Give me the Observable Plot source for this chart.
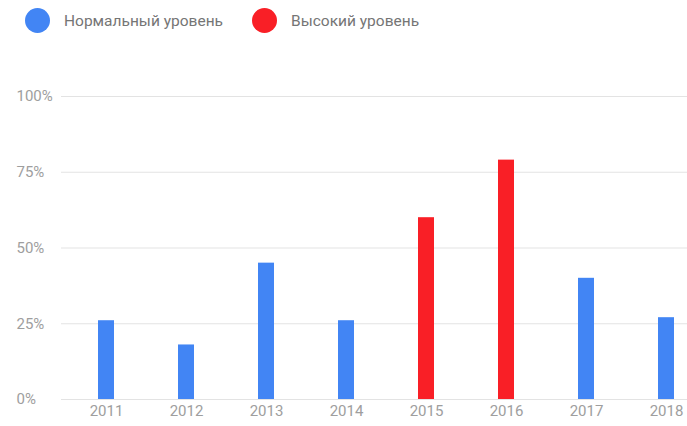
<!DOCTYPE html>
<html>
<head>
<meta charset="utf-8">
<script src="https://cdn.jsdelivr.net/npm/d3@7"></script>
<script src="https://cdn.jsdelivr.net/npm/@observablehq/plot@0.6"></script>
<style>
  html, body { margin: 0; padding: 0; background: #fff; overflow: hidden; width: 687px; height: 426px; }
  body { font-family: Roboto, "Noto Sans", sans-serif; }
  #legend { position: relative; height: 44px; }
  .item { position: absolute; top: 8px; display: flex; align-items: center; font-size: 15.5px; color: #757575; }
  .dot { width: 25px; height: 25px; border-radius: 50%; margin-right: 14px; }
  #chart svg { max-width: none !important; }
</style>
</head>
<body>
<div id="legend"></div>
<div id="chart"></div>
<script>
const years = ["2011", "2012", "2013", "2014", "2015", "2016", "2017", "2018"];
const values = [26, 18, 45, 26, 60, 79, 40, 27];
const levels = ["Нормальный уровень", "Нормальный уровень", "Нормальный уровень", "Нормальный уровень", "Высокий уровень", "Высокий уровень", "Нормальный уровень", "Нормальный уровень"];
const seriesNames = ["Нормальный уровень", "Высокий уровень"];
const seriesColors = ["#4285f4", "#f91f26"];
const yTicks = [0, 25, 50, 75, 100];

const data = years.map((y, i) => ({year: y, value: values[i], level: levels[i]}));

// legend
const legend = document.getElementById("legend");
const legendX = [25, 252];
seriesNames.forEach((name, i) => {
  const d = document.createElement("div");
  d.className = "item";
  d.style.left = legendX[i] + "px";
  const dot = document.createElement("div");
  dot.className = "dot";
  dot.style.background = seriesColors[i];
  const t = document.createElement("span");
  t.textContent = name;
  d.appendChild(dot); d.appendChild(t);
  legend.appendChild(d);
});

const chart = Plot.plot({
  width: 711,
  height: 382,
  marginLeft: 61,
  marginRight: 0,
  marginTop: 52,
  marginBottom: 27,
  style: {fontFamily: "Roboto, 'Noto Sans', sans-serif", fontSize: "15px", color: "#9e9e9e", overflow: "visible", maxWidth: "none"},
  x: {domain: years, paddingInner: 0.8, paddingOuter: 0.4625, label: null},
  y: {domain: [0, 100], label: null},
  color: {domain: seriesNames, range: seriesColors},
  marks: [
    Plot.ruleY(yTicks, {stroke: "#e3e3e3", strokeWidth: 1.2}),
    Plot.barY(data, {x: "year", y: "value", fill: "level"}),
    Plot.axisY(yTicks, {tickSize: 0, tickPadding: 0, textAnchor: "start", dx: -45, tickFormat: d => d + "%", fill: "#9e9e9e", fontSize: 15}),
    Plot.axisX({tickSize: 0, tickPadding: 6, fill: "#9e9e9e", fontSize: 15})
  ]
});
document.getElementById("chart").appendChild(chart);
</script>
</body>
</html>
